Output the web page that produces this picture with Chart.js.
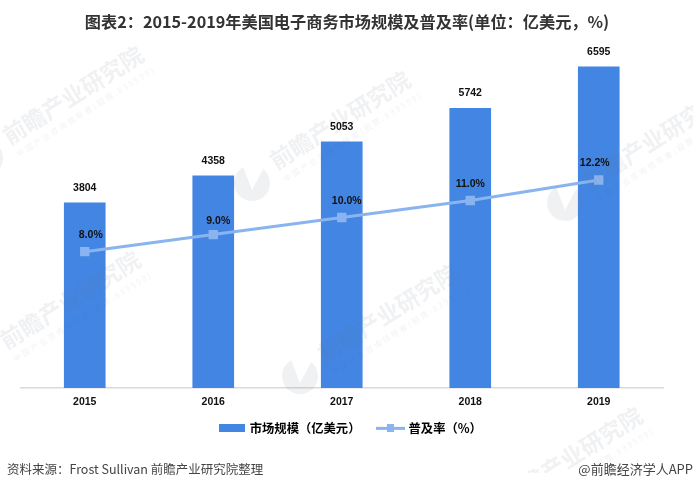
<!DOCTYPE html>
<html><head><meta charset="utf-8">
<style>html,body{margin:0;padding:0;background:#fff}#w{position:relative;width:693px;height:490px}canvas{display:block}</style>
<script src="https://cdn.jsdelivr.net/npm/chart.js@4"></script></head>
<body><div id="w"><canvas id="c" width="693" height="490"></canvas></div>
<script>
const categories = ["2015","2016","2017","2018","2019"];
const marketSize = [3804,4358,5053,5742,6595];
const penetration = [8.0,9.0,10.0,11.0,12.2];
const titleText = "图表2：2015-2019年美国电子商务市场规模及普及率(单位：亿美元，%)";
const sourceText = "资料来源：Frost Sullivan 前瞻产业研究院整理";
const creditText = "@前瞻经济学人APP";
const barName = "市场规模（亿美元）";
const lineName = "普及率（%）";
const wmMain = "前瞻产业研究院";
const wmSub = "中国产业咨询领导者(股票:839599)";
const CJK = '"Noto Sans CJK SC"';
const BLUE = "#4285E3", LIGHT = "#8AB4F0";
const marks = [[73,95],[70,300],[340,120],[388,313],[653,140],[572,456]];
const pctDx = [6,5,5,0,-4];
const pctDy = [-17,-13,-16,-16,-17];

function swatch(w,h,draw){const c=document.createElement("canvas");c.width=w;c.height=h;draw(c.getContext("2d"));return c;}
const barSwatch = swatch(26,8,g=>{g.fillStyle=BLUE;g.fillRect(0,0,26,8);});
const lineSwatch = swatch(29,8,g=>{g.fillStyle=LIGHT;g.fillRect(0,3,29,3);g.fillRect(11,0,7,8);});

const legendShift = {id:"legendShift",afterLayout(ch){const l=ch.legend;l.left+=9;l.right+=9;l.top-=13;l.bottom-=13;}};
const watermark = {id:"wm",afterDatasetsDraw(ch){
  const x=ch.ctx;
  x.save();
  x.beginPath();x.rect(0,40,693,433);x.clip();
  marks.forEach(m=>{
    x.save();x.translate(m[0],m[1]);
    x.fillStyle="rgba(105,115,140,0.10)";
    x.beginPath();x.arc(-88,63,18,-0.9,4.2);x.lineTo(-88,70);x.closePath();x.fill();
    x.rotate(-0.56);
    x.textAlign="center";x.textBaseline="middle";
    x.font='bold 23px '+CJK;x.fillText(wmMain,0,0);
    x.fillStyle="rgba(105,115,140,0.09)";
    x.font='8px '+CJK;x.letterSpacing="2px";x.fillText(wmSub,2,21);
    x.restore();
  });
  x.restore();
}};
const labels = {id:"labels",afterDatasetsDraw(ch){
  const x=ch.ctx;x.save();x.fillStyle="#111";x.font='bold 10.5px "Liberation Sans"';x.textAlign="center";x.textBaseline="middle";
  ch.getDatasetMeta(1).data.forEach((b,i)=>x.fillText(String(marketSize[i]),b.x,b.y-15));
  ch.getDatasetMeta(0).data.forEach((p,i)=>x.fillText(penetration[i].toFixed(1)+"%",p.x+pctDx[i],p.y+pctDy[i]));
  x.restore();
}};
const extras = {id:"extras",afterDraw(ch){
  const x=ch.ctx;
  x.save();
  x.textBaseline="middle";
  x.fillStyle="#333";x.font='bold 16.2px '+CJK;x.textAlign="center";x.fillText(titleText,347,22);
  x.fillStyle="#444";x.font='12.5px '+CJK;x.textAlign="left";x.fillText(sourceText,7,469);
  x.font='13px '+CJK;x.textAlign="right";x.fillText(creditText,693,469);
  x.restore();
}};
new Chart(document.getElementById("c"),{
  data:{labels:categories,datasets:[
    {type:"line",label:lineName,data:penetration,yAxisID:"y2",order:0,borderColor:LIGHT,backgroundColor:LIGHT,borderWidth:3,pointStyle:"rect",pointRadius:4.5,pointHoverRadius:4.5,tension:0},
    {type:"bar",label:barName,data:marketSize,yAxisID:"y",order:1,backgroundColor:BLUE,barThickness:41}
  ]},
  plugins:[legendShift,watermark,labels,extras],
  options:{responsive:false,animation:false,devicePixelRatio:1,
    layout:{padding:{left:20.5,right:30,top:47,bottom:33}},
    plugins:{title:{display:false},tooltip:{enabled:false},
      legend:{position:"bottom",labels:{usePointStyle:true,pointStyleWidth:24,font:{family:CJK,size:12.3,weight:"bold"},color:"#222",boxHeight:8,padding:18,
        generateLabels(ch){return [
          {text:barName,pointStyle:barSwatch,fillStyle:BLUE,strokeStyle:BLUE,lineWidth:0,datasetIndex:1},
          {text:lineName,pointStyle:lineSwatch,fillStyle:LIGHT,strokeStyle:LIGHT,lineWidth:0,datasetIndex:0}];}}}},
    scales:{
      x:{grid:{display:false,drawTicks:false},border:{color:"#D9D9D9",width:1.5},ticks:{color:"#111",font:{family:"Liberation Sans",size:10.5,weight:"bold"},padding:8}},
      y:{display:false,min:0,max:7000},
      y2:{display:false,min:0,max:20}
    }}
});
</script></body></html>
